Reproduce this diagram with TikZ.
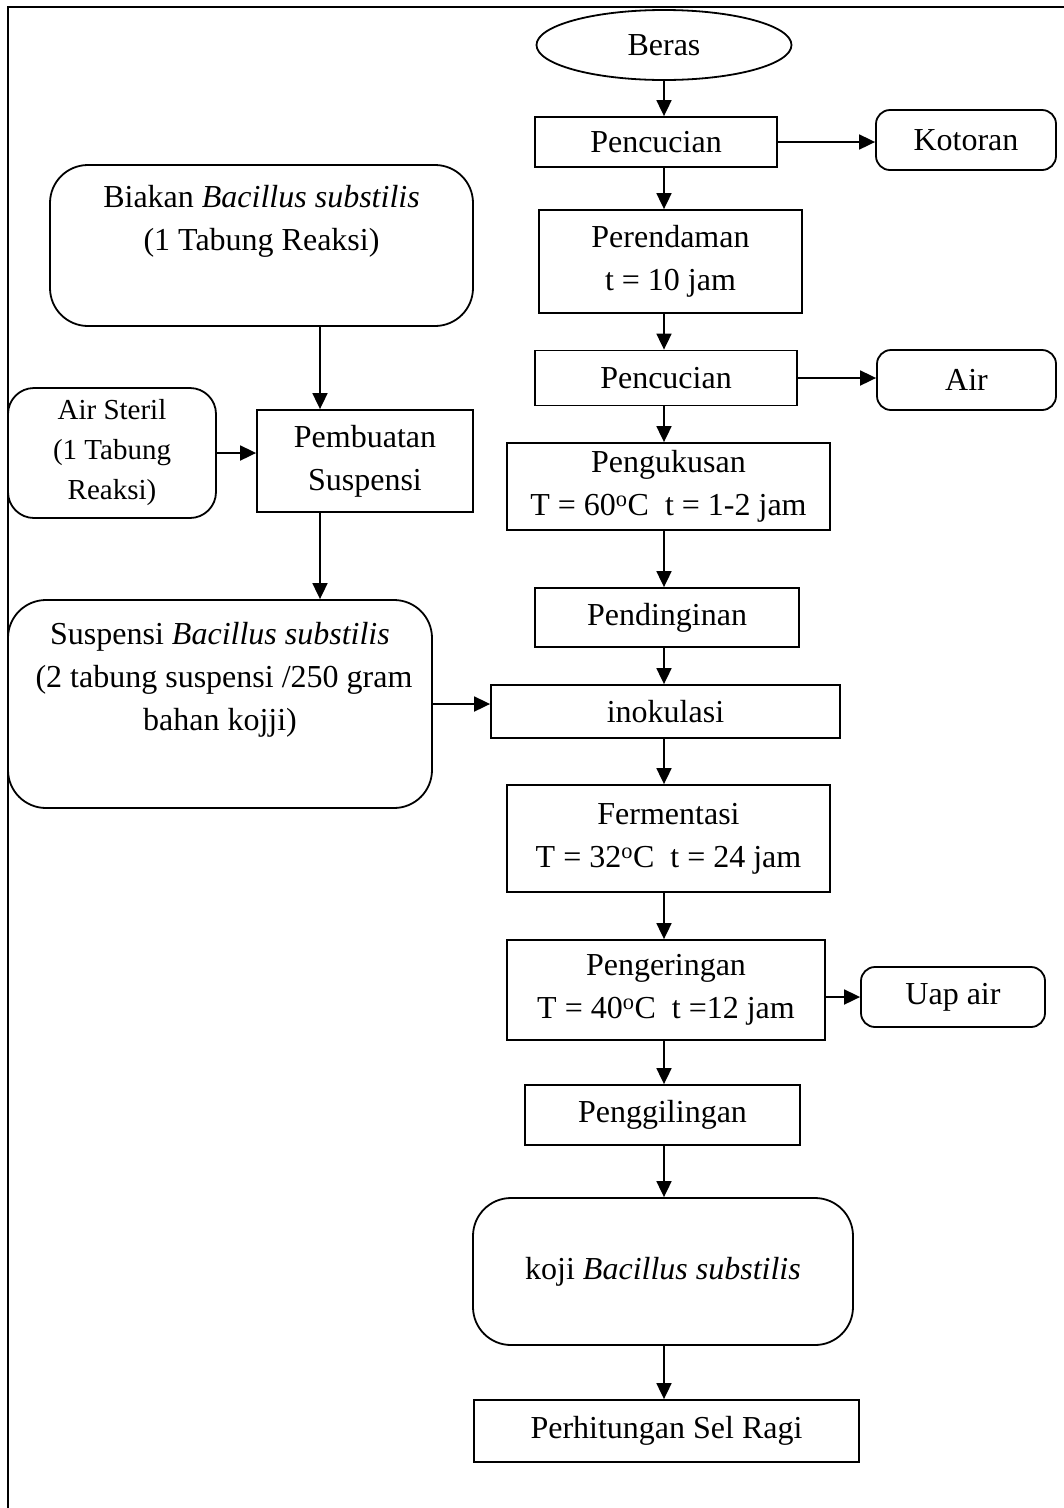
\documentclass[tikz,border=0pt]{standalone}
\usepackage{fontspec}
\setmainfont{Liberation Serif}
\usetikzlibrary{arrows.meta,shapes.geometric}
\begin{document}
\begin{tikzpicture}[x=1pt,y=-1pt,
  every node/.style={font=\fontsize{32}{43}\selectfont, line width=1.8pt, align=center, inner sep=0pt},
  boxr/.style={draw, rectangle},
  boxround/.style={draw, rectangle, rounded corners=14pt},
  boxbig/.style={draw, rectangle, rounded corners=38pt},
  arr/.style={line width=1.8pt, -{Triangle[length=16pt,width=15pt]}}]
\useasboundingbox (0,0) rectangle (1064,1508);
\draw[line width=1.8pt] (1064,7) -- (8,7) -- (8,1508);
% main column
\node[draw, ellipse, minimum width=255pt, minimum height=70pt] (beras) at (664,45) {Beras};
\node[boxr, minimum width=242pt, minimum height=50pt] (p1) at (656,142) {Pencucian};
\node[boxround, minimum width=180pt, minimum height=60pt] (kot) at (966,140) {Kotoran};
\node[boxr, minimum width=263pt, minimum height=103pt] (per) at (670.5,261.5) {Perendaman\\t = 10 jam};
\node[boxr, minimum width=262pt, minimum height=55pt] (p2) at (666,378) {Pencucian};
\node[boxround, minimum width=179pt, minimum height=60pt] (air) at (966.5,380) {Air};
\node[boxr, minimum width=323pt, minimum height=87pt] (kus) at (668.5,486.5) {Pengukusan\\T = 60\textsuperscript{o}C\ \ t = 1-2 jam};
\node[boxr, minimum width=264pt, minimum height=59pt] (ding) at (667,617.5) {Pendinginan};
\node[boxr, minimum width=349pt, minimum height=53pt] (ino) at (665.5,711.5) {inokulasi};
\node[boxr, minimum width=323pt, minimum height=107pt] (fer) at (668.5,838.5) {Fermentasi\\T = 32\textsuperscript{o}C\ \ t = 24 jam};
\node[boxr, minimum width=318pt, minimum height=100pt] (ker) at (666,990) {Pengeringan\\T = 40\textsuperscript{o}C\ \ t =12 jam};
\node[boxround, minimum width=184pt, minimum height=60pt] (uap) at (953,997) {Uap air};
\node[boxr, minimum width=275pt, minimum height=60pt] (gil) at (662.5,1115) {Penggilingan};
\node[boxbig, minimum width=380pt, minimum height=147pt] (koji) at (663,1271.5) {koji \textit{Bacillus substilis}};
\node[boxr, minimum width=385pt, minimum height=62pt] (hit) at (666.5,1431) {Perhitungan Sel Ragi};
% left column
\node[boxbig, minimum width=423pt, minimum height=161pt] (bia) at (261.5,245.5) {Biakan \textit{Bacillus substilis}\\(1 Tabung Reaksi)\\\strut};
\node[draw, rectangle, rounded corners=26pt, minimum width=208pt, minimum height=130pt, font=\fontsize{29}{40}\selectfont] (ster) at (112,453) {Air Steril\\(1 Tabung\\Reaksi)};
\node[boxr, minimum width=216pt, minimum height=102pt] (pemb) at (365,461) {Pembuatan\\Suspensi};
\node[boxbig, minimum width=424pt, minimum height=208pt] (susp) at (220,704) {Suspensi \textit{Bacillus substilis}\\\ (2 tabung suspensi /250 gram\\bahan kojji)\\\strut};
\coordinate (lx) at (320,0);
% arrows main column
\draw[arr] (beras.south) -- (beras.south |- p1.north);
\draw[arr] (beras |- p1.south) -- (beras |- per.north);
\draw[arr] (beras |- per.south) -- (beras |- p2.north);
\draw[arr] (beras |- p2.south) -- (beras |- kus.north);
\draw[arr] (beras |- kus.south) -- (beras |- ding.north);
\draw[arr] (beras |- ding.south) -- (beras |- ino.north);
\draw[arr] (beras |- ino.south) -- (beras |- fer.north);
\draw[arr] (beras |- fer.south) -- (beras |- ker.north);
\draw[arr] (beras |- ker.south) -- (beras |- gil.north);
\draw[arr] (beras |- gil.south) -- (beras |- koji.north);
\draw[arr] (beras |- koji.south) -- (beras |- hit.north);
% side outputs
\draw[arr] (p1.east) -- (p1.east -| kot.west);
\draw[arr] (p2.east) -- (p2.east -| air.west);
\draw[arr] (uap.west -| ker.east) -- (uap.west);
% left arrows
\draw[arr] (lx |- bia.south) -- (lx |- pemb.north);
\draw[arr] (ster.east) -- (ster.east -| pemb.west);
\draw[arr] (lx |- pemb.south) -- (lx |- susp.north);
\draw[arr] (susp.east) -- (susp.east -| ino.west);
\end{tikzpicture}
\end{document}
